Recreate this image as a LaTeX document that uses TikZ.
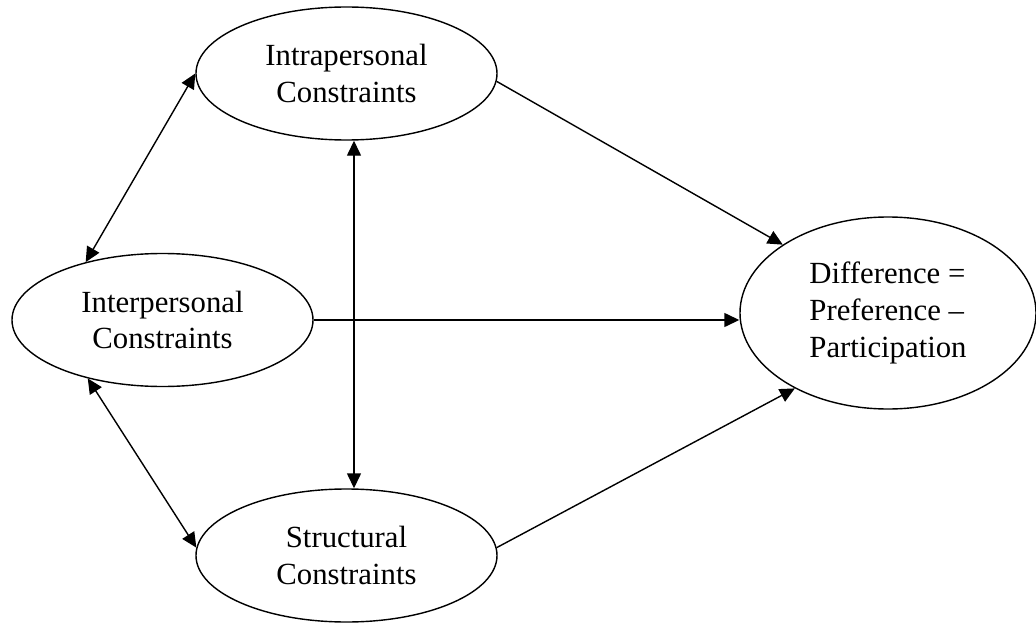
\documentclass[tikz,border=0pt]{standalone}
\usepackage{fontspec}
\setmainfont{Liberation Serif}
\usetikzlibrary{shapes.geometric, arrows.meta, positioning, calc}
\tikzset{
	construct/.style={ellipse, draw, line width=0.8pt, minimum width=6.02cm, minimum height=2.66cm, inner sep=0pt, align=center, font=\fontsize{17.5}{21}\selectfont},
	outcome/.style={ellipse, draw, line width=0.8pt, minimum width=5.92cm, minimum height=3.84cm, inner sep=0pt, align=left, font=\fontsize{17.5}{21}\selectfont},
	line/.style={draw, line width=0.8pt, -{Triangle[length=3mm, width=2.8mm]}},
	twoway/.style={draw, line width=0.8pt, {Triangle[length=3mm, width=2.8mm]}-{Triangle[length=3mm, width=2.8mm]}}
}

\begin{document}
\begin{tikzpicture}[x=0.2mm, y=-0.2mm]
	\useasboundingbox (0,0) rectangle (1036,623);
	
	% Nodes for the three kinds of constraints
	\node[construct] (intra) at (346.5,73.5) {Intrapersonal\\Constraints};
	\node[construct] (inter) at (162.5,320) {Interpersonal\\Constraints};
	\node[construct] (struct) at (346.5,555.5) {Structural\\Constraints};
	
	% Node for the outcome
	\node[outcome] (diff) at (888,313) {Difference =\\Preference –\\Participation};
	
	% Two-way links between the constraints
	\path[twoway] (inter.143) -- (intra.west);
	\path[twoway] (inter.218) -- (struct.177);
	\path[twoway] ($(intra.south)+(7.5,0)$) -- ($(struct.north)+(7.5,0)$);
	
	% Links to the outcome
	\path[line] (intra.-3) -- (diff.147);
	\path[line] (inter.east) -- (inter.east -| diff.west);
	\path[line] (struct.3) -- (diff.219);
\end{tikzpicture}
\end{document}
